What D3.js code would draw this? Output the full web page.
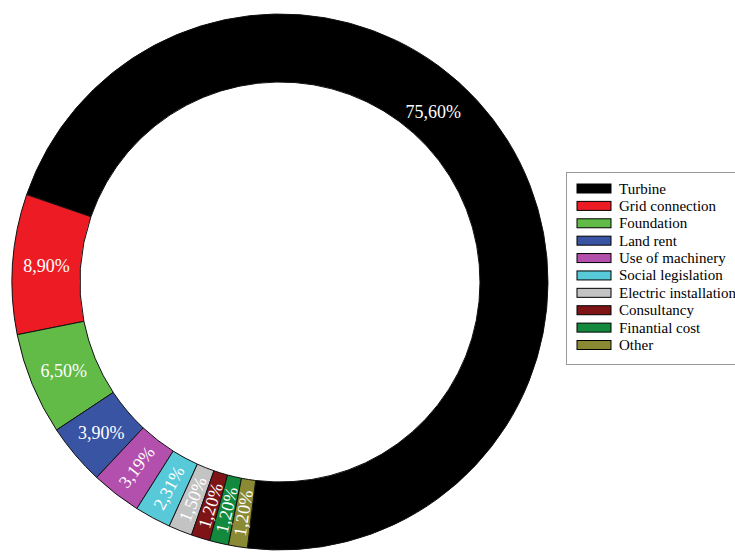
<!DOCTYPE html>
<html><head><meta charset="utf-8">
<script src="https://cdn.jsdelivr.net/npm/d3@7"></script>
<style>html,body{margin:0;padding:0;background:#fff;}svg{display:block;}</style>
</head><body>
<svg id="chart" width="735" height="552"></svg>
<script>
const categories = ["Turbine","Grid connection","Foundation","Land rent","Use of machinery","Social legislation","Electric installation","Consultancy","Finantial cost","Other"];
const values = [75.6, 8.9, 6.5, 3.9, 3.19, 2.31, 1.5, 1.2, 1.2, 1.2];
const valueLabels = ["75,60%","8,90%","6,50%","3,90%","3,19%","2,31%","1,50%","1,20%","1,20%","1,20%"];
const colors = ["#000000","#ed1c24","#62bb47","#3a54a4","#b350ad","#58c9d9","#c3c3c3","#7f1416","#13893d","#8a8a35"];
const rotatedLabels = [false,false,false,false,true,true,true,true,true,true];

const svg = d3.select("#chart");
const cx = 280, cy = 282, rOuter = 268, rInner = 200;
const start = 187 * Math.PI / 180;

const pie = d3.pie().sort(null).value(d => d)
  .startAngle(start).endAngle(start - 2 * Math.PI);
const arcs = pie(values);
const arc = d3.arc().innerRadius(rInner).outerRadius(rOuter);
const labelArc = d3.arc().innerRadius(234).outerRadius(234);

const g = svg.append("g").attr("transform", `translate(${cx},${cy})`);
g.selectAll("path.slice").data(arcs).enter().append("path")
  .attr("class","slice")
  .attr("d", arc)
  .attr("fill", (d,i) => colors[i])
  .attr("stroke", "#111")
  .attr("stroke-width", 1);

g.selectAll("text.lbl").data(arcs).enter().append("text")
  .attr("class","lbl")
  .attr("transform", (d,i) => {
    let a = (d.startAngle + d.endAngle) / 2;
    let r = 234;
    if (i === 0) { a = 42 * Math.PI / 180; r = 229; }
    const x = r * Math.sin(a), y = -r * Math.cos(a);
    let deg = a * 180 / Math.PI;
    deg = ((deg % 360) + 360) % 360;
    const rot = rotatedLabels[i] ? deg - 270 : 0;
    return `translate(${x},${y}) rotate(${rot})`;
  })
  .attr("text-anchor","middle")
  .attr("dominant-baseline","central")
  .attr("font-family","'Liberation Serif','Times New Roman',serif")
  .attr("font-size", 18)
  .attr("fill","#ffffff")
  .text((d,i) => valueLabels[i]);

// Legend
const legend = svg.append("g");
legend.append("rect")
  .attr("x", 566.5).attr("y", 172.5).attr("width", 200).attr("height", 192)
  .attr("fill","#fff").attr("stroke","#9a9a9a").attr("stroke-width",1);
const ly = d3.scalePoint().domain(categories).range([188.5, 345]);
const items = legend.selectAll("g.item").data(categories).enter().append("g").attr("class","item");
items.append("rect")
  .attr("x", 577).attr("y", d => ly(d) - 4.5)
  .attr("width", 34).attr("height", 9)
  .attr("fill", (d,i) => colors[i])
  .attr("stroke","#000").attr("stroke-width",1);
items.append("text")
  .attr("x", 619).attr("y", d => ly(d))
  .attr("dominant-baseline","central")
  .attr("font-family","'Liberation Serif','Times New Roman',serif")
  .attr("font-size", 15)
  .attr("fill","#000")
  .text(d => d);
</script>
</body></html>
